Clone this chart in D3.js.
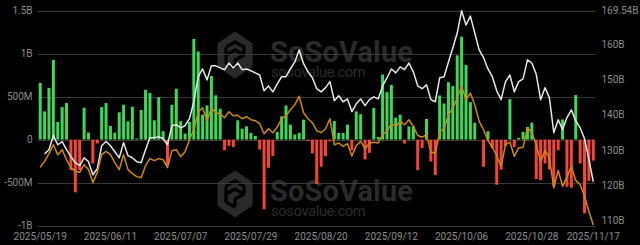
<!DOCTYPE html>
<html><head><meta charset="utf-8">
<script src="https://cdn.jsdelivr.net/npm/d3@7"></script>
<style>html,body{margin:0;padding:0;background:#000;} svg{display:block;}</style>
</head><body><svg id="c" width="640" height="245"></svg>
<script>
const dates = [
"2025/05/19","2025/05/20","2025/05/21","2025/05/22","2025/05/23","2025/05/27","2025/05/28","2025/05/29","2025/05/30",
"2025/06/02","2025/06/03","2025/06/04","2025/06/05","2025/06/06","2025/06/09","2025/06/10","2025/06/11","2025/06/12","2025/06/13","2025/06/16","2025/06/17","2025/06/18","2025/06/20","2025/06/23","2025/06/24","2025/06/25","2025/06/26","2025/06/27","2025/06/30",
"2025/07/01","2025/07/02","2025/07/03","2025/07/07","2025/07/08","2025/07/09","2025/07/10","2025/07/11","2025/07/14","2025/07/15","2025/07/16","2025/07/17","2025/07/18","2025/07/21","2025/07/22","2025/07/23","2025/07/24","2025/07/25","2025/07/28","2025/07/29","2025/07/30","2025/07/31",
"2025/08/01","2025/08/04","2025/08/05","2025/08/06","2025/08/07","2025/08/08","2025/08/11","2025/08/12","2025/08/13","2025/08/14","2025/08/15","2025/08/18","2025/08/19","2025/08/20","2025/08/21","2025/08/22","2025/08/25","2025/08/26","2025/08/27","2025/08/28","2025/08/29",
"2025/09/02","2025/09/03","2025/09/04","2025/09/05","2025/09/08","2025/09/09","2025/09/10","2025/09/11","2025/09/12","2025/09/15","2025/09/16","2025/09/17","2025/09/18","2025/09/19","2025/09/22","2025/09/23","2025/09/24","2025/09/25","2025/09/26","2025/09/29","2025/09/30",
"2025/10/01","2025/10/02","2025/10/03","2025/10/06","2025/10/07","2025/10/08","2025/10/09","2025/10/10","2025/10/13","2025/10/14","2025/10/15","2025/10/16","2025/10/17","2025/10/20","2025/10/21","2025/10/22","2025/10/23","2025/10/24","2025/10/27","2025/10/28","2025/10/29","2025/10/30","2025/10/31",
"2025/11/03","2025/11/04","2025/11/05","2025/11/06","2025/11/07","2025/11/10","2025/11/11","2025/11/12","2025/11/13","2025/11/14","2025/11/17"];

// Daily total net inflow, USD millions
const netInflow = [
660,328,602,927,205,378,425,-355,-614,-355,
371,81,-278,-46,378,425,158,81,317,405,
212,382,12,345,580,542,224,494,98,-300,
403,592,214,70,205,1172,1025,290,398,740,
515,359,-124,-73,-85,224,127,154,77,42,
-116,-811,-328,-193,89,270,398,174,58,77,
232,-15,-160,-517,-317,-193,-20,216,77,77,
174,-124,328,295,-232,-154,367,31,757,552,
637,255,290,-46,154,154,-355,-97,240,-255,
-413,513,420,668,622,980,1197,869,436,195,
0,-317,97,-100,-525,-350,-75,470,-88,20,
89,147,197,-460,-472,-278,-350,-540,-124,234,
-549,-560,518,-278,-858,-481,-245];

// Total net assets, USD billions
const totalNetAssets = [
null,128.9,130.1,134.1,131.5,132.4,130.1,128.1,126.4,125.6,
127.8,126.7,123.0,124.7,131.2,132.4,131.2,129.5,127.8,132.1,
128.4,127.8,126.7,126.4,130.1,133.5,133.5,133.8,133.2,131.5,
136.9,137.2,136.3,136.9,138.9,143.7,150.8,153.0,149.9,153.9,
153.9,153.3,152.8,154.7,153.3,154.7,152.8,153.0,152.5,151.9,
151.3,146.8,148.2,146.5,148.8,150.8,150.8,153.0,155.0,158.4,
154.5,152.2,150.5,147.4,146.5,147.7,149.4,144.0,145.4,143.7,
144.5,140.9,143.1,144.5,142.6,144.3,145.1,144.5,148.2,150.5,
153.0,151.9,153.6,152.8,154.7,152.2,148.2,147.4,148.5,144.3,
143.7,150.5,150.8,155.0,159.0,163.2,169.54,165.5,168.0,163.2,
158.4,156.2,153.0,150.8,146.8,144.3,149.4,151.3,146.5,149.4,
150.2,155.6,154.7,151.5,144.3,147.7,144.8,134.9,138.6,135.8,
139.2,141.4,138.3,136.3,133.2,127.3,121.0];

// BTC price, USD (hidden axis)
const btcPrice = [
105680,107080,108890,111000,108660,109830,107480,105610,104740,104500,
106310,105140,102090,104430,108660,109430,108660,106780,105140,108660,
105140,104200,103490,103260,106070,107720,107250,107720,107480,105610,
109590,109830,108190,109360,112170,114520,118740,119680,116630,119680,
118510,118270,117330,118740,117800,117920,117100,117570,116870,116630,
115930,113580,114750,113820,115110,117100,117800,119210,120380,122380,
118510,117100,116160,114290,113820,114750,117100,111000,111400,110600,
111240,108350,110770,111780,110060,111400,111590,111400,113350,114120,
116000,115290,116470,115690,116870,115290,113160,112760,113350,109240,
109050,113930,114800,118040,119610,121960,124770,121560,123130,120380,
116470,114520,111990,110340,108470,105910,111000,111590,108260,110230,
110410,114920,113930,111000,107080,109640,107880,100840,104950,101220,
103380,105910,102600,101620,98870,95350,92120];

const leftTicks = [-1000, -500, 0, 500, 1000, 1500];
const leftTickLabels = ["-1B", "-500M", "0", "500M", "1B", "1.5B"];
const rightTicks = [110, 120, 130, 140, 150, 160, 169.54];
const rightTickLabels = ["110B", "120B", "130B", "140B", "150B", "160B", "169.54B"];
const xTickDates = ["2025/05/19","2025/06/11","2025/07/07","2025/07/29","2025/08/20","2025/09/12","2025/10/06","2025/10/28","2025/11/17"];

const svg = d3.select("#c");
svg.append("rect").attr("width", 640).attr("height", 245).attr("fill", "#000");

const x = d3.scaleBand().domain(dates).range([38, 595.5]).paddingInner(0.32).paddingOuter(0.16);
const yL = d3.scaleLinear().domain([-1000, 1500]).range([225.5, 10.7]);
const yR = d3.scaleLinear().domain([108.58, 169.54]).range([225.5, 10.7]);
const yP = d3.scaleLinear().domain([92000, 142500]).range([225.5, 10.7]);
const cx = d => x(d) + x.bandwidth() / 2;

// watermark
const wmColor = "#2a2a2a";
function watermark(gx, gy) {
  const g = svg.append("g").attr("transform", `translate(${gx},${gy})`);
  const hex = d3.range(6).map(k => {
    const a = Math.PI / 3 * k - Math.PI / 2;
    return [18 + 18 * Math.cos(a), 22 + 21 * Math.sin(a)];
  });
  g.append("path").attr("d", d3.line().curve(d3.curveLinearClosed)(hex))
    .attr("fill", wmColor).attr("stroke", wmColor).attr("stroke-width", 4).attr("stroke-linejoin", "round");
  g.append("path").attr("d", "M9,14 L18,9 L27,14 L27,22 L18,27 L18,35 M9,22 L18,17 L27,22 M9,14 L9,30 L18,35")
    .attr("fill", "none").attr("stroke", "#000").attr("stroke-width", 3.2).attr("stroke-linejoin", "round");
  const t = g.append("text").attr("font-family", "Roboto, 'Noto Sans', sans-serif").attr("fill", wmColor);
  t.append("tspan").attr("x", 53).attr("y", 29).attr("font-weight", 700).attr("font-size", 29)
    .attr("textLength", 143).text("SoSoValue");
  t.append("tspan").attr("x", 54).attr("y", 44).attr("font-weight", 400).attr("font-size", 15)
    .attr("textLength", 95).text("sosovalue.com");
}
watermark(217, 33);
watermark(217, 172);

// gridlines
svg.append("g").selectAll("line").data(leftTicks).join("line")
  .attr("x1", 38).attr("x2", 595.5)
  .attr("y1", d => Math.round(yL(d)) + 0.5).attr("y2", d => Math.round(yL(d)) + 0.5)
  .attr("stroke", "#3a3a3a").attr("stroke-width", 1);

const font = "Roboto, 'Liberation Sans', sans-serif";
const labelColor = "#8c8c8c";
svg.append("g").selectAll("text").data(leftTicks).join("text")
  .attr("x", 32.5).attr("y", d => yL(d)).attr("dy", "0.35em").attr("text-anchor", "end")
  .attr("font-family", font).attr("font-size", 10).attr("fill", labelColor)
  .text((d, i) => leftTickLabels[i]);

svg.append("g").selectAll("text").data(rightTicks).join("text")
  .attr("x", 601.5).attr("y", d => yR(d)).attr("dy", "0.35em").attr("text-anchor", "start")
  .attr("font-family", font).attr("font-size", 10).attr("fill", labelColor)
  .text((d, i) => rightTickLabels[i]);

svg.append("g").selectAll("text").data(xTickDates).join("text")
  .attr("x", d => cx(d)).attr("y", 236).attr("dy", "0.35em").attr("text-anchor", "middle")
  .attr("font-family", font).attr("font-size", 10).attr("fill", labelColor)
  .text(d => d);

// bars
svg.append("g").selectAll("rect").data(dates).join("rect")
  .attr("x", d => x(d)).attr("width", x.bandwidth())
  .attr("y", (d, i) => Math.min(yL(netInflow[i]), yL(0)))
  .attr("height", (d, i) => Math.abs(yL(netInflow[i]) - yL(0)))
  .attr("fill", (d, i) => netInflow[i] >= 0 ? "#3cd85a" : "#f5443a");

// lines
const lineW = d3.line().defined((d, i) => totalNetAssets[i] != null)
  .x(d => cx(d)).y((d, i) => yR(totalNetAssets[i]));
svg.append("path").attr("d", lineW(dates)).attr("fill", "none")
  .attr("stroke", "#e6e6e6").attr("stroke-width", 1.5).attr("stroke-linejoin", "round");

const lineO = d3.line().x(d => cx(d)).y((d, i) => yP(btcPrice[i]));
svg.append("path").attr("d", lineO(dates)).attr("fill", "none")
  .attr("stroke", "#cf8a0e").attr("stroke-width", 1.5).attr("stroke-linejoin", "round");
</script>
</body></html>
